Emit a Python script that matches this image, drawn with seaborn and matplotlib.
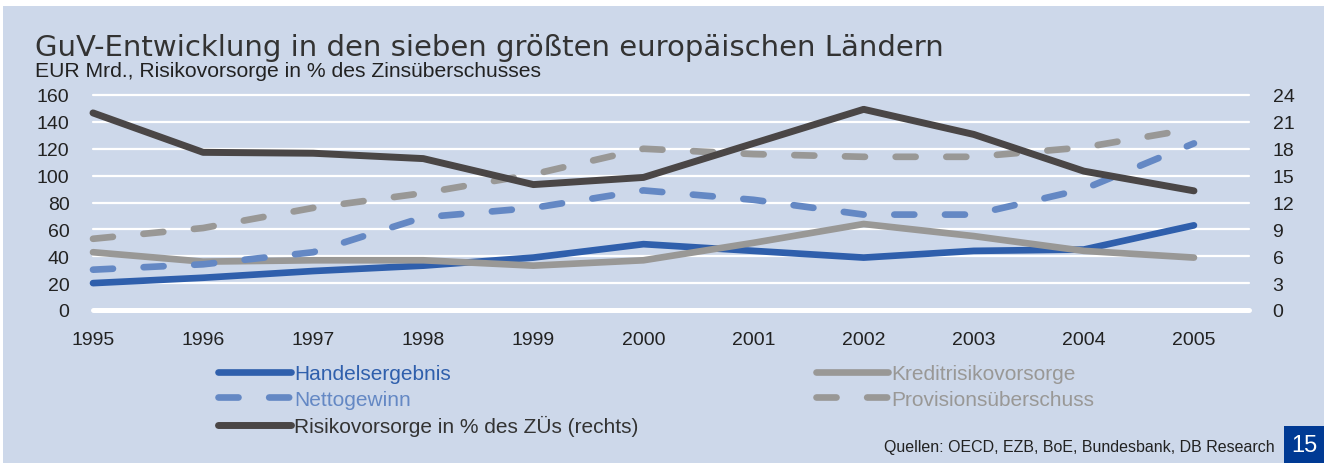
import matplotlib
matplotlib.use("Agg")

import matplotlib.pyplot as plt
from matplotlib.patches import Rectangle
import pandas as pd
import seaborn as sns

# values (EUR Mrd. on the left, % on the right)
years = [1995, 1996, 1997, 1998, 1999, 2000, 2001, 2002, 2003, 2004, 2005]
handel = [20, 24, 29, 33, 39, 49, 44, 39, 44, 45, 63]
kredit = [43, 36, 37, 37, 33, 37, 50, 64, 55, 44, 39]
netto = [30, 34, 43, 69, 76, 89, 82, 71, 71, 90, 124]
provision = [53, 61, 76, 87, 101, 120, 116, 114, 114, 121, 135]
risiko = [22.0, 17.6, 17.5, 16.9, 14.0, 14.8, 18.6, 22.4, 19.6, 15.5, 13.3]

left_ticks = [0, 20, 40, 60, 80, 100, 120, 140, 160]
right_ticks = [0, 3, 6, 9, 12, 15, 18, 21, 24]

BG = "#CDD8EA"
C_HANDEL = "#2F5FAC"
C_NETTO = "#6488C4"
C_GRAY = "#999896"
C_DARK = "#4A4646"

sns.set_style("white")
plt.rcParams["font.family"] = ["Liberation Sans", "DejaVu Sans"]

df = pd.DataFrame({
    "Jahr": years,
    "Handelsergebnis": handel,
    "Kreditrisikovorsorge": kredit,
    "Nettogewinn": netto,
    "Provisionsüberschuss": provision,
    "Risiko": risiko,
})

fig = plt.figure(figsize=(13.24, 4.64), dpi=100, facecolor="white")
fig.patches.append(Rectangle((3 / 1324, 0), 1, 1 - 7 / 464, transform=fig.transFigure,
                             facecolor=BG, edgecolor="none", zorder=-10))

ax = fig.add_axes([93 / 1324, 1 - 311 / 464, (1249 - 93) / 1324, 215 / 464])
ax.set_facecolor("none")
for s in ax.spines.values():
    s.set_visible(False)

lw = 4.8
dash = (0, (3.0, 4.6))
series = [
    ("Handelsergebnis", C_HANDEL, "-"),
    ("Kreditrisikovorsorge", C_GRAY, "-"),
    ("Nettogewinn", C_NETTO, dash),
    ("Provisionsüberschuss", C_GRAY, dash),
]
handles = {}
for name, col, ls in series:
    sns.lineplot(data=df, x="Jahr", y=name, ax=ax, color=col, linewidth=lw,
                 linestyle=ls, clip_on=False)
    line = ax.lines[-1]
    line.set_dash_capstyle("round")
    line.set_solid_capstyle("round")
    handles[name] = line

ax.set_xlim(1995, 2005.5)
ax.set_ylim(0, 160)
ax.set_yticks(left_ticks)
ax.set_xticks(years)
ax.set_xlabel("")
ax.set_ylabel("")
for v in left_ticks:
    ax.axhline(v, color="white", linewidth=3.6 if v == 0 else 1.6, zorder=0.5, clip_on=False)
ax.tick_params(axis="both", length=0, labelsize=14, colors="#222222")
ax.tick_params(axis="y", pad=17)
ax.tick_params(axis="x", pad=15)

ax2 = ax.twinx()
ax2.set_facecolor("none")
for s in ax2.spines.values():
    s.set_visible(False)
sns.lineplot(data=df, x="Jahr", y="Risiko", ax=ax2, color=C_DARK, linewidth=5.0, clip_on=False)
rline = ax2.lines[-1]
rline.set_solid_capstyle("round")
ax2.set_ylim(0, 24)
ax2.set_yticks(right_ticks)
ax2.set_ylabel("")
ax2.tick_params(axis="y", length=0, labelsize=14, colors="#222222", pad=17)
ax2.set_xlim(1995, 2005.5)

# legend
order = ["Handelsergebnis", "Nettogewinn", "Risiko", "Kreditrisikovorsorge", "Provisionsüberschuss"]
labels = {"Risiko": "Risikovorsorge in % des ZÜs (rechts)"}
handles["Risiko"] = rline
text_cols = {"Handelsergebnis": C_HANDEL, "Nettogewinn": C_NETTO, "Risiko": "#333333",
             "Kreditrisikovorsorge": C_GRAY, "Provisionsüberschuss": C_GRAY}
leg = fig.legend([handles[k] for k in order], [labels.get(k, k) for k in order],
                 loc="upper left", bbox_to_anchor=(218 / 1324, 1 - 365 / 464),
                 ncol=2, frameon=False, fontsize=15, handlelength=3.5,
                 handletextpad=0.15, columnspacing=8.5, labelspacing=0.32,
                 borderpad=0, borderaxespad=0)
for txt, k in zip(leg.get_texts(), order):
    txt.set_color(text_cols[k])

fig.text(35 / 1324, 1 - 56 / 464, "GuV-Entwicklung in den sieben größten europäischen Ländern",
         fontsize=21, color="#333333", family=["DejaVu Sans"], va="baseline", ha="left")
fig.text(35 / 1324, 1 - 77 / 464, "EUR Mrd., Risikovorsorge in % des Zinsüberschusses",
         fontsize=15.2, color="#222222", va="baseline", ha="left")
fig.text(1275 / 1324, 1 - 452 / 464, "Quellen: OECD, EZB, BoE, Bundesbank, DB Research",
         fontsize=11.5, color="#222222", va="baseline", ha="right")
fig.patches.append(Rectangle((1284 / 1324, 0), 40 / 1324, 37 / 464, transform=fig.transFigure,
                             facecolor="#003A94", edgecolor="none", zorder=5))
fig.text(1304 / 1324, 18 / 464, "15", fontsize=17, color="white", ha="center", va="center",
         zorder=6)

fig.savefig("out.png", dpi=100, facecolor=fig.get_facecolor())
